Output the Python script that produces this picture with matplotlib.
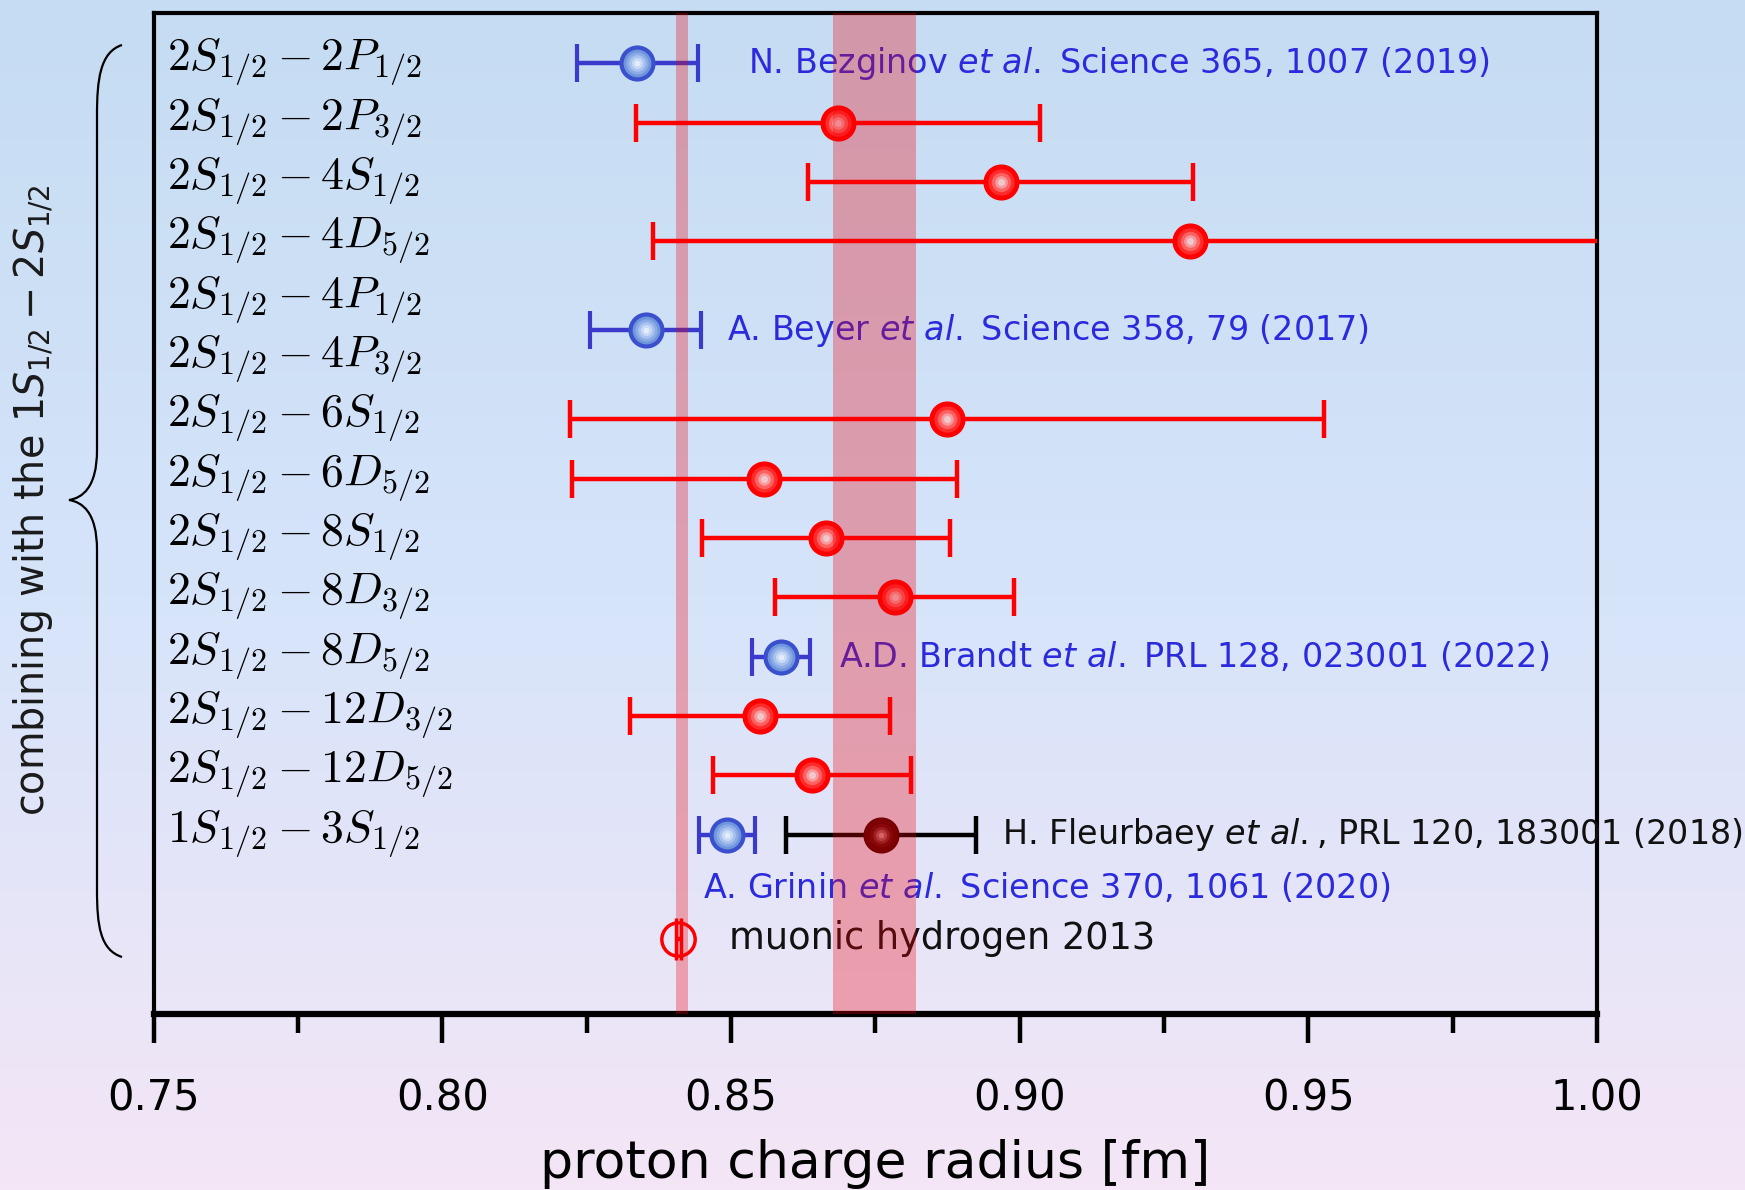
import numpy as np
import matplotlib
matplotlib.use('Agg')
import matplotlib.pyplot as plt
from matplotlib.path import Path
from matplotlib.patches import PathPatch

# 전이 이름 (행 순서대로)
transitions = [r'$2S_{1/2}-2P_{1/2}$', r'$2S_{1/2}-2P_{3/2}$', r'$2S_{1/2}-4S_{1/2}$',
               r'$2S_{1/2}-4D_{5/2}$', r'$2S_{1/2}-4P_{1/2}$', r'$2S_{1/2}-4P_{3/2}$',
               r'$2S_{1/2}-6S_{1/2}$', r'$2S_{1/2}-6D_{5/2}$', r'$2S_{1/2}-8S_{1/2}$',
               r'$2S_{1/2}-8D_{3/2}$', r'$2S_{1/2}-8D_{5/2}$', r'$2S_{1/2}-12D_{3/2}$',
               r'$2S_{1/2}-12D_{5/2}$', r'$1S_{1/2}-3S_{1/2}$']

# 빨간 점 (기존 측정)
red_rows = [1, 2, 3, 6, 7, 8, 9, 11, 12]
red_r = [0.8685, 0.8967, 0.9295, 0.8874, 0.8558, 0.8665, 0.8784, 0.8551, 0.8640]
red_err = [0.0350, 0.0334, 0.0930, 0.0653, 0.0334, 0.0215, 0.0207, 0.0225, 0.0171]

# 파란 점 (최근 측정)
blue_rows = [0, 4.5, 10, 13]
blue_r = [0.8338, 0.8352, 0.8587, 0.8493]
blue_err = [0.0105, 0.0096, 0.0050, 0.0048]
blue_refs = ['N. Bezginov $\\it{et\\ al.}$ Science 365, 1007 (2019)',
             'A. Beyer $\\it{et\\ al.}$ Science 358, 79 (2017)',
             'A.D. Brandt $\\it{et\\ al.}$ PRL 128, 023001 (2022)',
             'A. Grinin $\\it{et\\ al.}$ Science 370, 1061 (2020)']

# 검은 점 (Fleurbaey)
black_row = [13]
black_r = [0.8760]
black_err = [0.0165]

# muonic hydrogen
mu_row = [14.75]
mu_r = [0.8409]
mu_err = [0.0004]

# 세로 띠
mu_band = [0.8404, 0.8425]
codata_band = [0.8676, 0.8820]

W, H = 1745, 1190
fig = plt.figure(figsize=(W / 100, H / 100), dpi=100)

# 배경 그라데이션
bg = fig.add_axes([0, 0, 1, 1], zorder=-10)
top = np.array([197, 220, 242]) / 255
mid = np.array([214, 228, 250]) / 255
bot = np.array([244, 230, 246]) / 255
t = np.linspace(0, 1, 256)[:, None]
grad = np.where(t < 0.5, top + (mid - top) * (t / 0.5), mid + (bot - mid) * ((t - 0.5) / 0.5))
bg.imshow(grad[:, None, :], aspect='auto', extent=[0, 1, 0, 1])
bg.axis('off')

ax = fig.add_axes([153.6 / W, 1 - 1014 / H, (1597 - 153.6) / W, (1014 - 13.4) / H])
ax.set_facecolor('none')

lw = 3.2
cap = 14

# 띠 (모든 것 위에 반투명)
band_c = '#f00008'
ax.axvspan(mu_band[0], mu_band[1], color=band_c, alpha=0.3, lw=0, zorder=8)
ax.axvspan(codata_band[0], codata_band[1], color=band_c, alpha=0.31, lw=0, zorder=8)

# 구 모양 점 (동심원으로 그라데이션 흉내)
def shade(x, y, colors, sizes):
    for c, s in zip(colors, sizes):
        ax.plot(x, y, 'o', color=c, ms=s, mew=0, zorder=4)

# 빨간 점
ax.errorbar(red_r, red_rows, xerr=red_err, fmt='o', color='#ff0000', ms=25,
            lw=lw, capsize=cap, capthick=lw, zorder=3)
shade(red_r, red_rows, ['#ff2a2a', '#ff6060', '#f59a9e', '#f0c8cc'], [19, 14, 9, 5])

# 파란 점
ax.errorbar(blue_r, blue_rows, xerr=blue_err, fmt='o', color='#3a3acc', mfc='#6f95dc',
            mec='#3a50cc', mew=3, ms=23, lw=lw, capsize=cap, capthick=lw, zorder=3)
shade(blue_r, blue_rows, ['#8aabe6', '#a9c3ee', '#c8daf5', '#e4eefb'], [16, 12, 8, 4])

# 검은 점
ax.errorbar(black_r, black_row, xerr=black_err, fmt='o', color='black', mfc='#4a0000',
            mec='#3a0000', ms=25, lw=lw, capsize=cap, capthick=lw, zorder=3)
shade(black_r, black_row, ['#5a0c0c', '#7a2a2a', '#a05a5a', '#c89090'], [17, 12, 8, 4])

# muonic
ax.errorbar(mu_r, mu_row, xerr=mu_err, fmt='o', color='#ff0000', mfc='none', mec='#ff0000',
            mew=2.5, ms=24, lw=lw, capsize=15, capthick=4.5, zorder=3)

# 왼쪽 전이 라벨
for i, lab in enumerate(transitions):
    ax.text(0.7523, i, lab, fontsize=33, va='center', ha='left', math_fontfamily='cm')

# 참고문헌 라벨
txt_x = [0.8529, 0.8493, 0.8687, 0.8452]
txt_y = [0.0, 4.5, 10.0, 13.9]
for x, y, s in zip(txt_x, txt_y, blue_refs):
    ax.text(x, y, s, fontsize=24, color='#2b2bdd', va='center', ha='left',
            family='DejaVu Sans', math_fontfamily='dejavusans', zorder=6)
ax.text(0.8969, 13, 'H. Fleurbaey $\\it{et\\ al.}$, PRL 120, 183001 (2018)', fontsize=24,
        color='#111111', va='center', ha='left', family='DejaVu Sans',
        math_fontfamily='dejavusans', zorder=6)
ax.text(0.8497, 14.75, 'muonic hydrogen 2013', fontsize=26.5, color='#111111', va='center',
        ha='left', family='DejaVu Sans', zorder=6)

ax.set_xlim(0.75, 1.00)
ax.set_ylim(16.02, -0.84)
ax.set_yticks([])
ax.set_xticks([0.75, 0.80, 0.85, 0.90, 0.95, 1.00])
ax.set_xticklabels(['0.75', '0.80', '0.85', '0.90', '0.95', '1.00'],
                   family='DejaVu Sans', fontsize=30)
ax.set_xticks([0.775, 0.825, 0.875, 0.925, 0.975], minor=True)
ax.tick_params(axis='x', which='major', direction='out', length=21, width=3.2, pad=25)
ax.tick_params(axis='x', which='minor', direction='out', length=14, width=3.2)
ax.set_xlabel('proton charge radius [fm]', family='DejaVu Sans', fontsize=37.5, labelpad=14)
for s in ['left', 'right', 'top']:
    ax.spines[s].set_linewidth(3)
ax.spines['bottom'].set_linewidth(4.5)

# 왼쪽 중괄호
def fy(y):
    return 1 - y / H

xs, xe, xt = 97 / W, 122 / W, 69 / W
verts = [(xe, fy(45)), (100 / W, fy(52)), (xs, fy(80)), (xs, fy(115)),
         (xs, fy(450)),
         (xs, fy(488)), (82 / W, fy(498)), (xt, fy(500)),
         (82 / W, fy(502)), (xs, fy(512)), (xs, fy(550)),
         (xs, fy(890)),
         (xs, fy(925)), (100 / W, fy(950)), (xe, fy(957))]
codes = [Path.MOVETO, Path.CURVE4, Path.CURVE4, Path.CURVE4,
         Path.LINETO,
         Path.CURVE4, Path.CURVE4, Path.CURVE4,
         Path.CURVE4, Path.CURVE4, Path.CURVE4,
         Path.LINETO,
         Path.CURVE4, Path.CURVE4, Path.CURVE4]
fig.add_artist(PathPatch(Path(verts, codes), fc='none', ec='black', lw=1.6,
                         transform=fig.transFigure))

fig.text(33 / W, fy(500), 'combining with the $1S_{1/2}-2S_{1/2}$', rotation=90,
         fontsize=28.5, family='DejaVu Sans', va='center', ha='center', color='#1a1a1a')

plt.savefig('out.png', dpi=100)
